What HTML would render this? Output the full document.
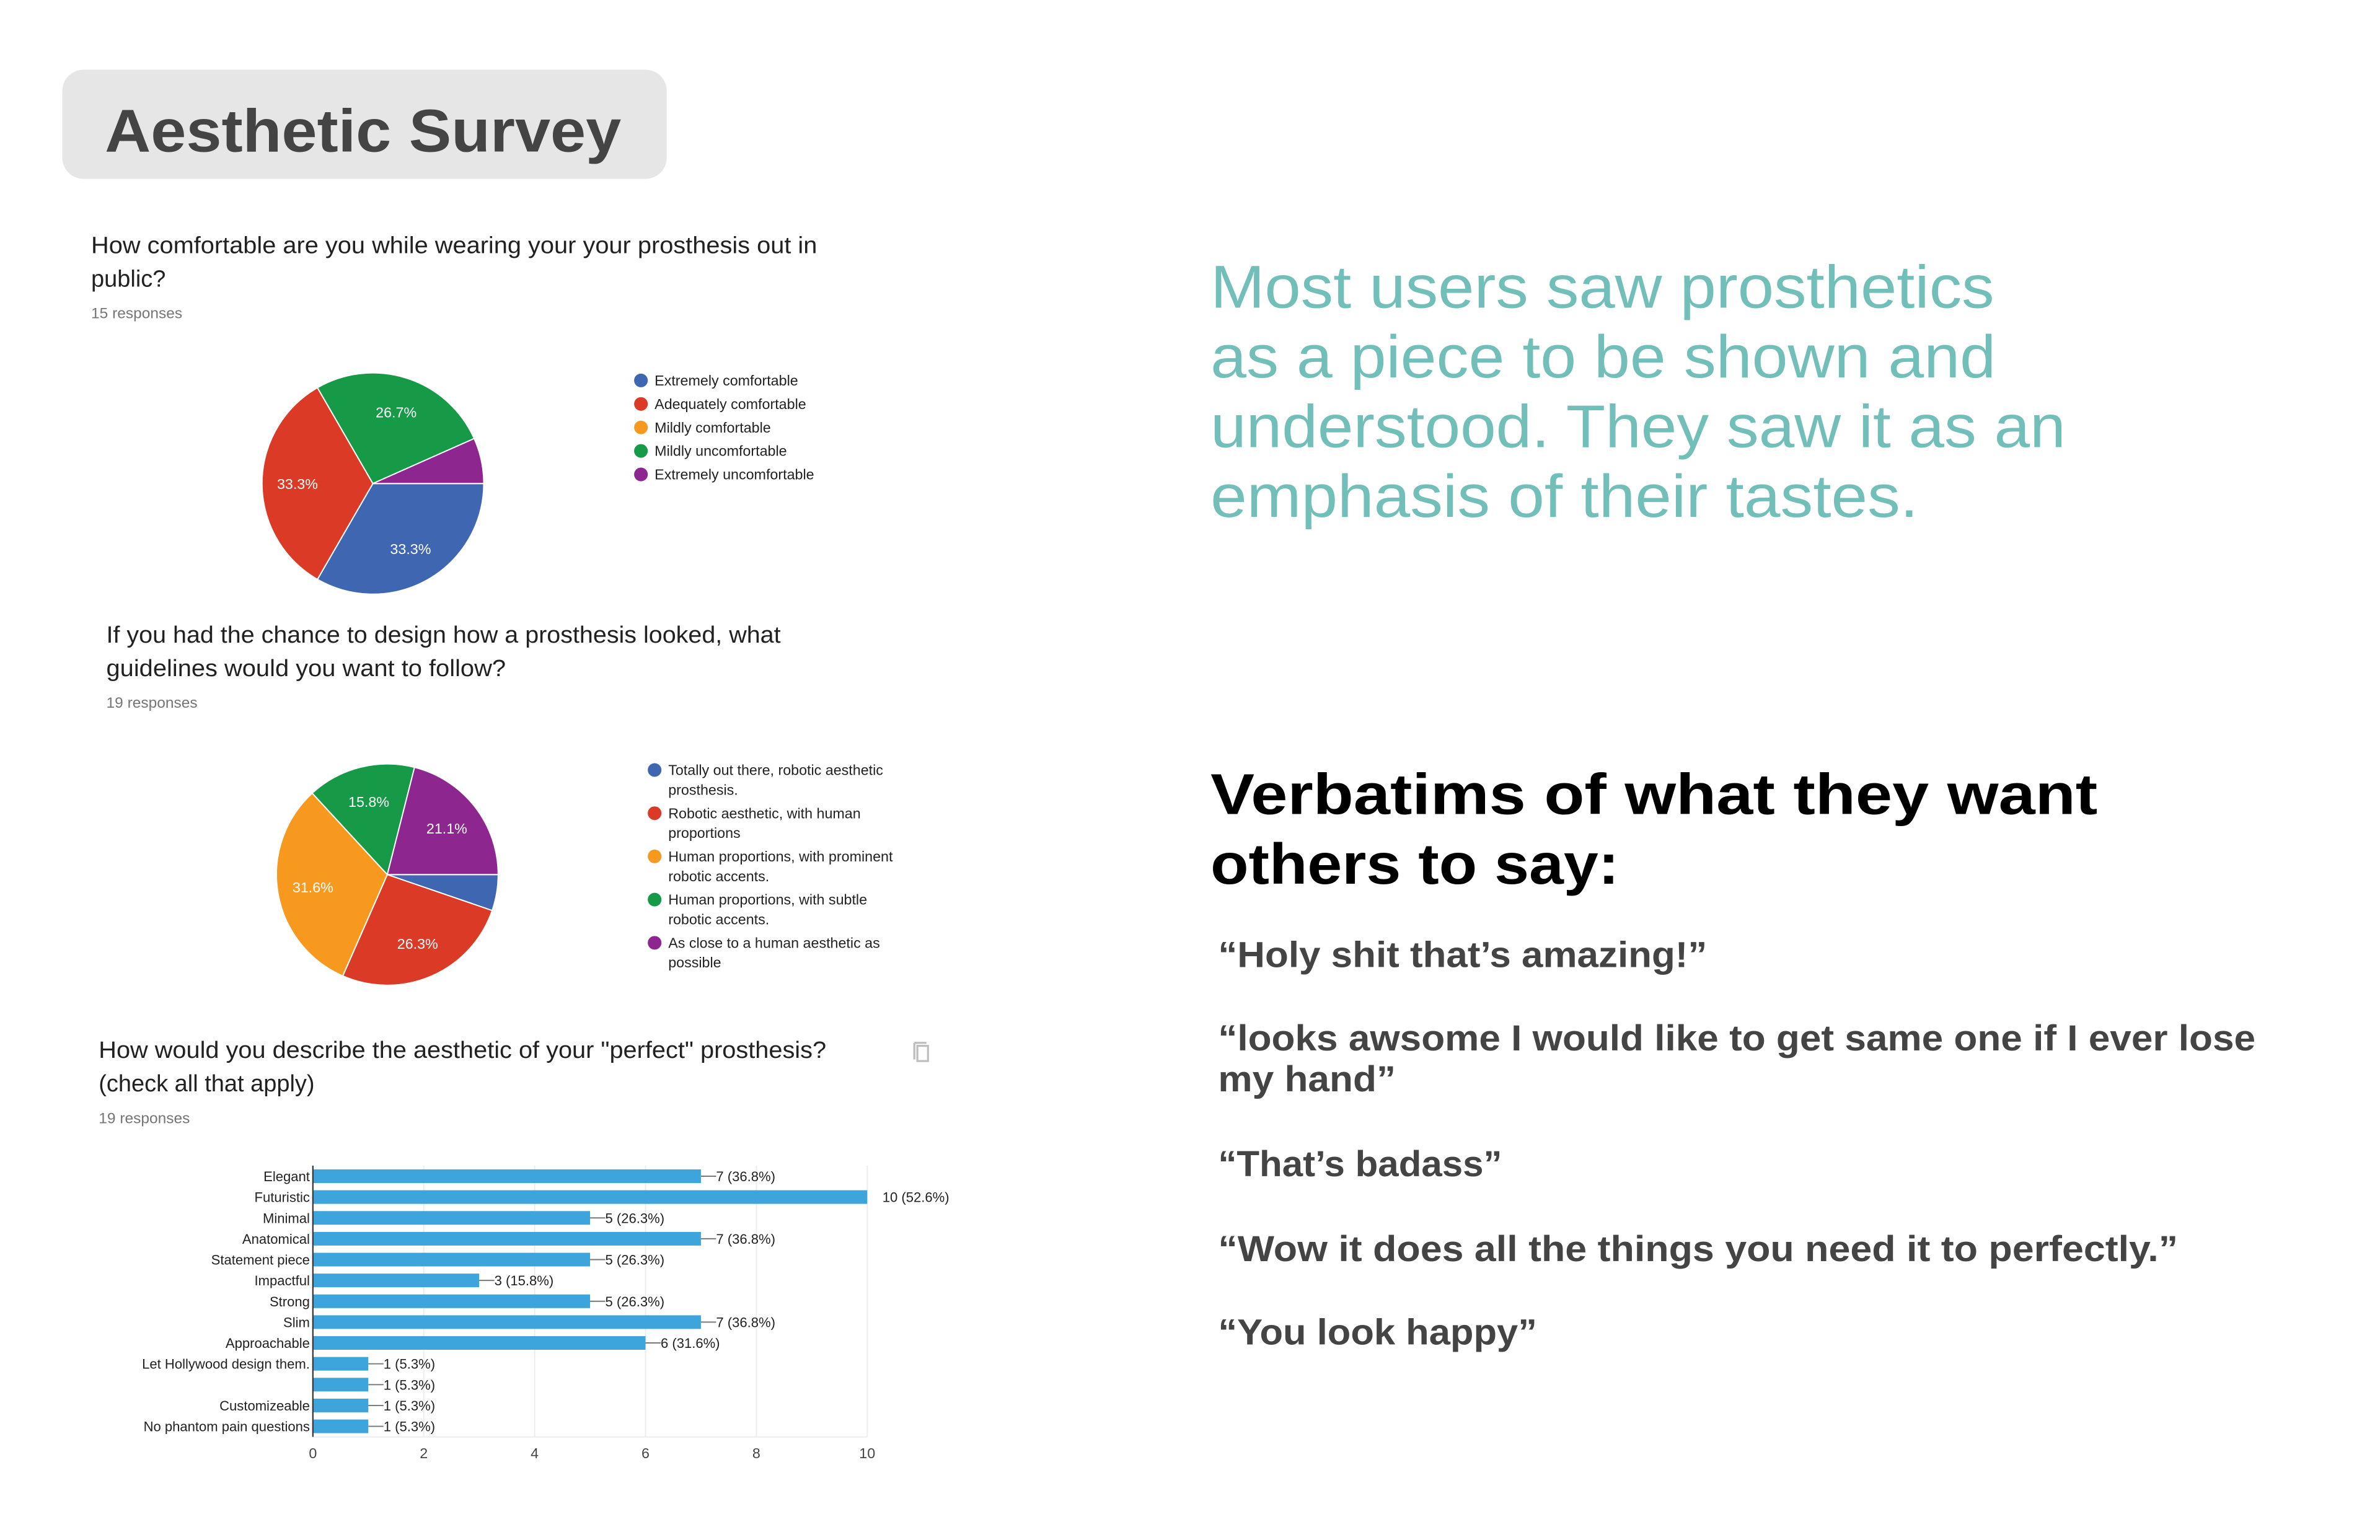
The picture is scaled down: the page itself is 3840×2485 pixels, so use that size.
<!DOCTYPE html>
<html><head><meta charset="utf-8"><style>
html,body{margin:0;padding:0;background:#fff;}
svg{display:block;}
text{font-family:"Liberation Sans",Arial,sans-serif;}
</style></head><body>
<svg id="s" width="3840" height="2485" viewBox="0 0 1567 1016" preserveAspectRatio="none" xmlns="http://www.w3.org/2000/svg">
<rect x="0" y="0" width="1567" height="1016" fill="#fff"/>
<g>
<rect x="41" y="46" width="398" height="72" rx="14" fill="#e6e6e6"/>
<text x="69" y="100" font-size="40" font-weight="bold" fill="#444" textLength="340" lengthAdjust="spacingAndGlyphs">Aesthetic Survey</text>
</g>
<g fill="#212121" font-size="15.5">
<text x="60" y="167" textLength="478" lengthAdjust="spacingAndGlyphs">How comfortable are you while wearing your your prosthesis out in</text>
<text x="60" y="189">public?</text>
<text x="60" y="210" font-size="10" fill="#757575">15 responses</text>
</g>
<g id="pie1"></g>
<g id="leg1"></g>
<g fill="#212121" font-size="15.5">
<text x="70" y="424" textLength="444" lengthAdjust="spacingAndGlyphs">If you had the chance to design how a prosthesis looked, what</text>
<text x="70" y="446" textLength="263" lengthAdjust="spacingAndGlyphs">guidelines would you want to follow?</text>
<text x="70" y="467" font-size="10" fill="#757575">19 responses</text>
</g>
<g id="pie2"></g>
<g id="leg2"></g>
<g fill="#212121" font-size="15.5">
<text x="65" y="698" textLength="479" lengthAdjust="spacingAndGlyphs">How would you describe the aesthetic of your "perfect" prosthesis?</text>
<text x="65" y="720">(check all that apply)</text>
<text x="65" y="741" font-size="10" fill="#757575">19 responses</text>
</g>
<g fill="none" stroke="#bdbdbd" stroke-width="1.3">
<rect x="604" y="690" width="7" height="10"/><path d="M602 688 v11 M602 688 h8"/>
</g>
<g id="bars"></g>
<g fill="#72bfb9" font-size="40">
<text x="797" y="203" textLength="516" lengthAdjust="spacingAndGlyphs">Most users saw prosthetics</text>
<text x="797" y="249" textLength="517" lengthAdjust="spacingAndGlyphs">as a piece to be shown and</text>
<text x="797" y="295" textLength="563" lengthAdjust="spacingAndGlyphs">understood. They saw it as an</text>
<text x="797" y="341" textLength="466" lengthAdjust="spacingAndGlyphs">emphasis of their tastes.</text>
</g>
<g fill="#000" font-size="38" font-weight="bold">
<text x="797" y="537" textLength="584" lengthAdjust="spacingAndGlyphs">Verbatims of what they want</text>
<text x="797" y="583" textLength="269" lengthAdjust="spacingAndGlyphs">others to say:</text>
</g>
<g fill="#444" font-size="24" font-weight="bold">
<text x="802" y="638" textLength="322" lengthAdjust="spacingAndGlyphs">“Holy shit that’s amazing!”</text>
<text x="802" y="693" textLength="683" lengthAdjust="spacingAndGlyphs">“looks awsome I would like to get same one if I ever lose</text>
<text x="802" y="720" textLength="117" lengthAdjust="spacingAndGlyphs">my hand”</text>
<text x="802" y="776" textLength="187" lengthAdjust="spacingAndGlyphs">“That’s badass”</text>
<text x="802" y="832" textLength="632" lengthAdjust="spacingAndGlyphs">“Wow it does all the things you need it to perfectly.”</text>
<text x="802" y="887" textLength="210" lengthAdjust="spacingAndGlyphs">“You look happy”</text>
</g>
</svg>
<script>
const pie1Labels = ["Extremely comfortable","Adequately comfortable","Mildly comfortable","Mildly uncomfortable","Extremely uncomfortable"];
const pie1Values = [5,5,0,4,1];
const pie2Labels = [["Totally out there, robotic aesthetic","prosthesis."],["Robotic aesthetic, with human","proportions"],["Human proportions, with prominent","robotic accents."],["Human proportions, with subtle","robotic accents."],["As close to a human aesthetic as","possible"]];
const pie2Values = [1,5,6,3,4];
const barCategories = ["Elegant","Futuristic","Minimal","Anatomical","Statement piece","Impactful","Strong","Slim","Approachable","Let Hollywood design them.","","Customizeable","No phantom pain questions"];
const barValues = [7,10,5,7,5,3,5,7,6,1,1,1,1];
const barTotal = 19;
const xTicks = [0,2,4,6,8,10];
const colors = ["#3f66b0","#db3b26","#f7991f","#169a47","#8e268f"];
const NS = "http://www.w3.org/2000/svg";
function mk(tag, attrs, parent){const e=document.createElementNS(NS,tag);for(const k in attrs)e.setAttribute(k,attrs[k]);parent.appendChild(e);return e;}

function drawPie(g, values, cx, cy, r){
  const total = values.reduce((a,b)=>a+b,0);
  let a0 = 0;
  values.forEach((v,i)=>{
    if(v<=0) return;
    const a1 = a0 + v/total*2*Math.PI;
    const x0=cx+r*Math.cos(a0), y0=cy+r*Math.sin(a0), x1=cx+r*Math.cos(a1), y1=cy+r*Math.sin(a1);
    const large = (a1-a0)>Math.PI?1:0;
    const p = mk("path",{d:`M${cx} ${cy} L${x0} ${y0} A${r} ${r} 0 ${large} 1 ${x1} ${y1} Z`,fill:colors[i],stroke:"#fff","stroke-width":0.8},g);
    
    
    const pct = v/total*100;
    if(pct>=10){
      const am=(a0+a1)/2, lr=r*0.68;
      const t = mk("text",{x:cx+lr*Math.cos(am),y:cy+lr*Math.sin(am)+3.5,"font-size":9.5,fill:"#fff","text-anchor":"middle"},g);
      t.textContent = pct.toFixed(1)+"%";
      
      
    }
    a0 = a1;
  });
}
drawPie(document.getElementById("pie1"), pie1Values, 245.5, 319, 73);
drawPie(document.getElementById("pie2"), pie2Values, 255, 577, 73);

const leg1 = document.getElementById("leg1");
pie1Labels.forEach((l,i)=>{
  const y = 251 + i*15.5;
  const c = mk("circle",{cx:422,cy:y,r:4.5,fill:colors[i]},leg1);
  
  
  const t = mk("text",{x:431,y:y+3.3,"font-size":9.5,fill:"#222"},leg1);
  t.textContent = l;
  
  
});
const leg2 = document.getElementById("leg2");
pie2Labels.forEach((l,i)=>{
  const y = 508 + i*28.5;
  const c = mk("circle",{cx:431,cy:y,r:4.5,fill:colors[i]},leg2);
  
  
  l.forEach((ln,j)=>{
    const t = mk("text",{x:440,y:y+3.3+j*13,"font-size":9.5,fill:"#222"},leg2);
    t.textContent = ln;
    
    
  });
});

const bars = document.getElementById("bars");
const X0=206, XU=36.5, Y0=776, STEP=13.75, BH=9, TOP=769, BOT=948;
const xs = v => X0 + v*XU;
const ys = i => Y0 + i*STEP;
xTicks.forEach(t=>{
  if(t>0){
    const gl = mk("line",{x1:xs(t),x2:xs(t),y1:TOP,y2:BOT,stroke:"#ececec","stroke-width":0.8},bars);
    
    
  }
  const tl = mk("text",{x:xs(t),y:962,"font-size":9.5,fill:"#444","text-anchor":"middle"},bars);
  tl.textContent = t;
  
  
});
const fr = mk("line",{x1:X0,x2:xs(10),y1:BOT,y2:BOT,stroke:"#ececec","stroke-width":0.8},bars);


barValues.forEach((v,i)=>{
  const y = ys(i);
  const r = mk("rect",{x:X0,y:y-BH/2,width:v*XU,height:BH,fill:"#3ea4dc"},bars);
  
  
  const lab = mk("text",{x:204,y:y+3.3,"font-size":9,fill:"#222","text-anchor":"end"},bars);
  lab.textContent = barCategories[i];
  
  
  const ex = xs(v);
  const vt = (v/barTotal*100).toFixed(1);
  if(v<10){
    const ln = mk("line",{x1:ex,x2:ex+10,y1:y,y2:y,stroke:"#777","stroke-width":0.8},bars);
    
    
  }
  const t = mk("text",{x:ex+10,y:y+3.3,"font-size":9,fill:"#222"},bars);
  t.textContent = v+" ("+vt+"%)";
  
  
});
const ax = mk("line",{x1:X0,x2:X0,y1:TOP,y2:BOT,stroke:"#333","stroke-width":0.9},bars);


</script>
</body></html>
